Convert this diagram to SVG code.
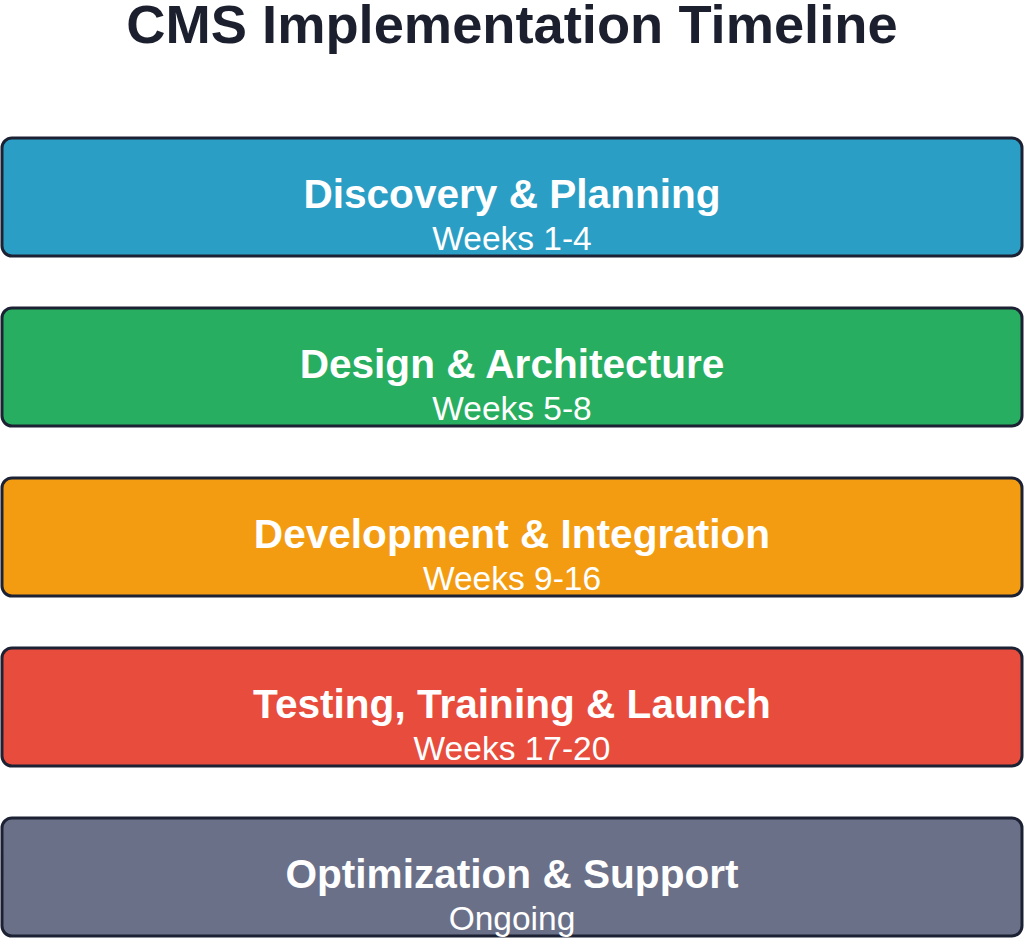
<svg xmlns="http://www.w3.org/2000/svg" width="1024" height="939" viewBox="0 0 1024 939">
<style>
.box{stroke:#1c2233;stroke-width:3}
.h{font-family:"Liberation Sans",Arial,sans-serif;font-weight:bold;font-size:40.6px;fill:#ffffff;text-anchor:middle}
.s{font-family:"Liberation Sans",Arial,sans-serif;font-size:33.5px;fill:#ffffff;text-anchor:middle}
.t{font-family:"Liberation Sans",Arial,sans-serif;font-weight:bold;font-size:54.3px;fill:#1c1f2e;text-anchor:middle}
</style>
<rect width="1024" height="939" fill="#ffffff"/>
<text class="t" x="512" y="43">CMS Implementation Timeline</text>
<g id="discovery">
<rect class="box" x="2" y="138" width="1020" height="118" rx="10" fill="#2b9ec5"/>
<text class="h" x="512" y="208">Discovery &amp; Planning</text>
<text class="s" x="512" y="250">Weeks 1-4</text>
</g>
<g id="design">
<rect class="box" x="2" y="308" width="1020" height="118" rx="10" fill="#27ae60"/>
<text class="h" x="512" y="378">Design &amp; Architecture</text>
<text class="s" x="512" y="420">Weeks 5-8</text>
</g>
<g id="development">
<rect class="box" x="2" y="478" width="1020" height="118" rx="10" fill="#f39c12"/>
<text class="h" x="512" y="548">Development &amp; Integration</text>
<text class="s" x="512" y="590">Weeks 9-16</text>
</g>
<g id="testing">
<rect class="box" x="2" y="648" width="1020" height="118" rx="10" fill="#e74c3c"/>
<text class="h" x="512" y="718">Testing, Training &amp; Launch</text>
<text class="s" x="512" y="760">Weeks 17-20</text>
</g>
<g id="optimization">
<rect class="box" x="2" y="818" width="1020" height="118" rx="10" fill="#6b7089"/>
<text class="h" x="512" y="888">Optimization &amp; Support</text>
<text class="s" x="512" y="930">Ongoing</text>
</g>
<g id="connectors"></g>
</svg>
